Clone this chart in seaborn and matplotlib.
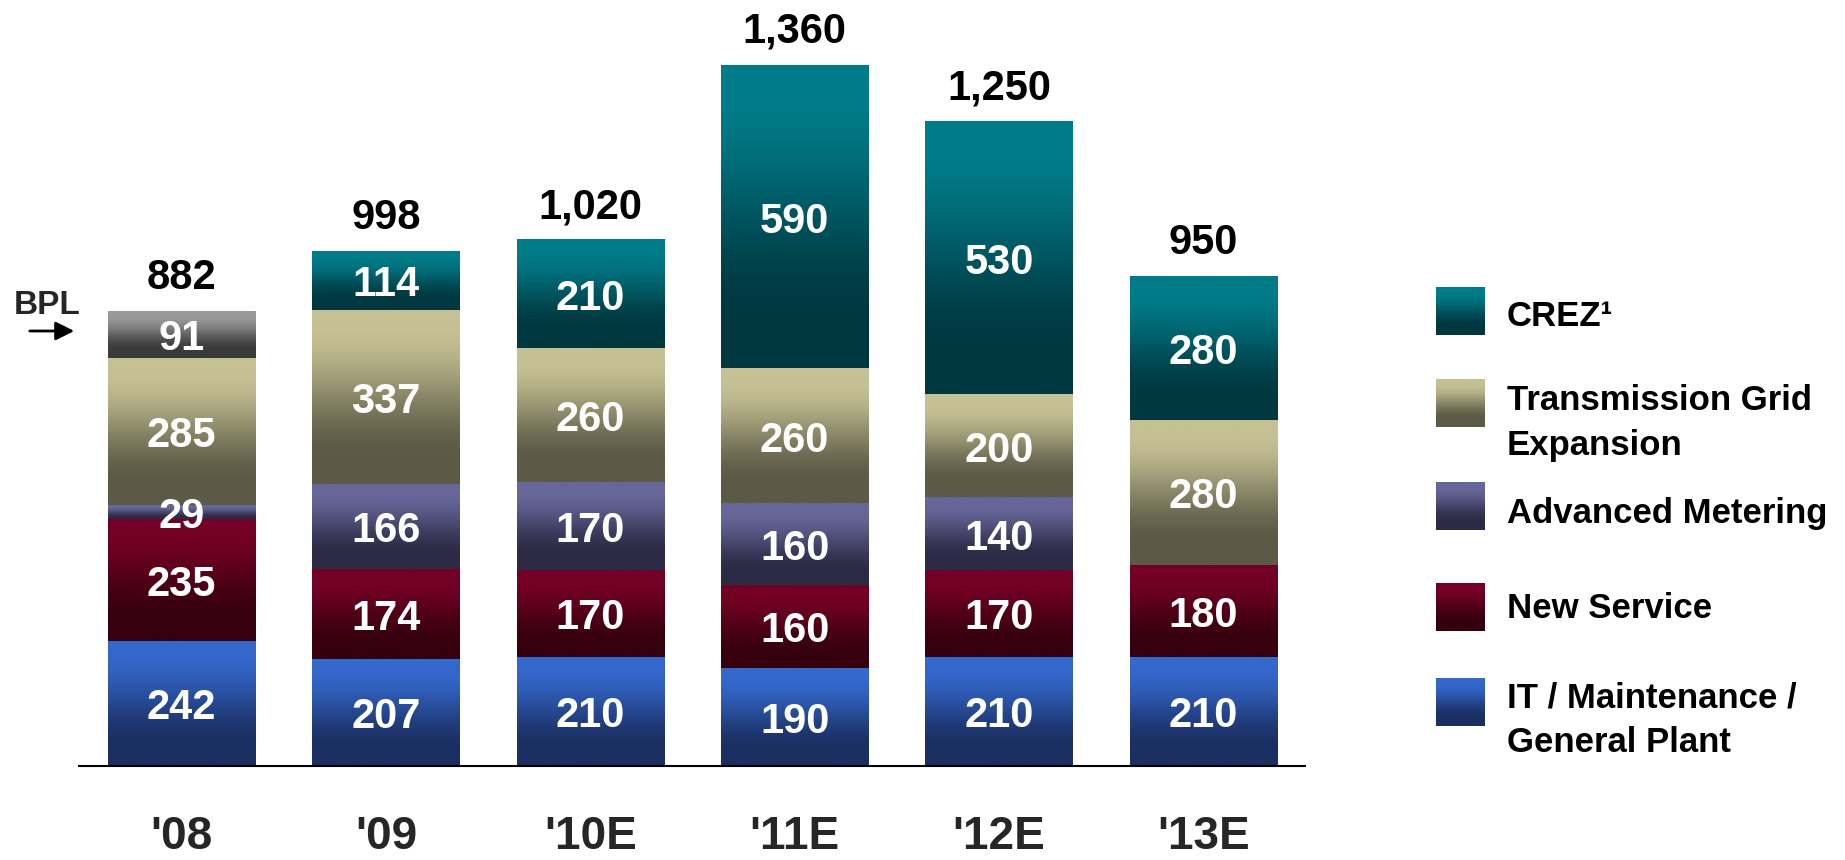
import numpy as np
import pandas as pd
import matplotlib
matplotlib.use("Agg")
import matplotlib.pyplot as plt
import seaborn as sns
from matplotlib.colors import to_rgb

# Capital expenditure by category, $ millions
years = ["'08", "'09", "'10E", "'11E", "'12E", "'13E"]
it_maint = [242, 207, 210, 190, 210, 210]
new_service = [235, 174, 170, 160, 170, 180]
adv_metering = [29, 166, 170, 160, 140, 0]
transmission = [285, 337, 260, 260, 200, 280]
bpl = [91, 0, 0, 0, 0, 0]
crez = [0, 114, 210, 590, 530, 280]
totals = [882, 998, 1020, 1360, 1250, 950]

# stacking order, bottom to top: (legend label, values, top colour, bottom colour)
series = [
    ("IT / Maintenance /\nGeneral Plant", it_maint, "#3468CC", "#1B2F62"),
    ("New Service", new_service, "#740026", "#36000E"),
    ("Advanced Metering", adv_metering, "#67679A", "#2C2A45"),
    ("Transmission Grid\nExpansion", transmission, "#C6C194", "#5C5A46"),
    ("BPL", bpl, "#9A9A9A", "#3A3A3A"),
    ("CREZ\u00b9", crez, "#007C89", "#003840"),
]
legend_order = ["CREZ\u00b9", "Transmission Grid\nExpansion", "Advanced Metering",
                "New Service", "IT / Maintenance /\nGeneral Plant"]

sns.set_theme(style="white")
plt.rcParams["font.family"] = ["Liberation Sans", "DejaVu Sans"]
plt.rcParams["font.weight"] = "bold"

W, H = 1845, 860
fig = plt.figure(figsize=(W / 100, H / 100), dpi=100)
ax = fig.add_axes([79.4 / W, (H - 766) / H, (1305.5 - 79.4) / W, 701 / H])


def gradient(top, bottom, n=256):
    t = np.linspace(0, 1, n)
    s = np.clip((t - 0.08) / 0.77, 0, 1)
    s = s * s * (3 - 2 * s)
    c = (1 - s)[:, None] * np.array(to_rgb(top)) + s[:, None] * np.array(to_rgb(bottom))
    return c[:, None, :]


# cumulative bounds of each layer
cum = np.zeros(len(years))
layers = []
for label, vals, c_top, c_bot in series:
    lower = cum.copy()
    cum = cum + np.asarray(vals, dtype=float)
    layers.append((label, lower, cum.copy(), vals, c_top, c_bot))

# draw cumulative bars from the top layer down, then paint each segment with a gradient
for label, lower, upper, vals, c_top, c_bot in reversed(layers):
    n_before = len(ax.patches)
    sns.barplot(x=years, y=upper, order=years, color=c_top, width=0.72,
                saturation=1, errorbar=None, ax=ax)
    for patch, lo, v in zip(ax.patches[n_before:], lower, vals):
        patch.set_visible(False)
        if v <= 0:
            continue
        x0, w = patch.get_x(), patch.get_width()
        top = patch.get_y() + patch.get_height()
        ax.imshow(gradient(c_top, c_bot), extent=[x0, x0 + w, lo, top],
                  aspect="auto", interpolation="bilinear", zorder=2)
        ax.text(x0 + w / 2, (lo + top) / 2, f"{v:,}", ha="center", va="center_baseline",
                color="white", fontsize=30, fontweight="bold", zorder=4)

# totals above each bar
for i, t in enumerate(totals):
    ax.annotate(f"{t:,}", (i, t), xytext=(0, 16), textcoords="offset points",
                ha="center", va="baseline", fontsize=30, fontweight="bold",
                color="black", annotation_clip=False)

ax.set_xlim(-0.5, len(years) - 0.5)
ax.set_ylim(0, max(totals))
ax.set_yticks([])
ax.set_xlabel("")
ax.set_ylabel("")
for side in ("left", "top", "right"):
    ax.spines[side].set_visible(False)
ax.spines["bottom"].set_color("black")
ax.spines["bottom"].set_linewidth(1.5)
ax.spines["bottom"].set_zorder(5)
ax.tick_params(axis="x", length=0, pad=35, labelsize=33)
for tl in ax.get_xticklabels():
    tl.set_fontweight("bold")

# overlay in pixel coordinates for the legend and the BPL pointer
lax = fig.add_axes([0, 0, 1, 1])
lax.set_axis_off()

colours = {label: (ct, cb) for label, _, ct, cb in series}
swatch_y = [287, 379, 482, 583, 678]
text_y = [313.5, 397.5, 509.5, 605.5, 694.5]
for label, sy, ty in zip(legend_order, swatch_y, text_y):
    ct, cb = colours[label]
    lax.imshow(gradient(ct, cb), extent=[1436, 1485, sy + 48, sy], aspect="auto",
               interpolation="bilinear")
    for k, line in enumerate(label.split("\n")):
        lax.text(1507, ty + 44 * k, line, ha="left", va="center_baseline",
                 fontsize=25, fontweight="bold", color="black")
lax.set_xlim(0, W)
lax.set_ylim(H, 0)

lax.text(14, 314, "BPL", ha="left", va="baseline", fontsize=24, fontweight="bold")
lax.annotate("", xy=(77, 331), xytext=(27, 331),
             arrowprops=dict(arrowstyle="-|>", color="black", lw=2, mutation_scale=28))

fig.savefig("out.png", dpi=100)
